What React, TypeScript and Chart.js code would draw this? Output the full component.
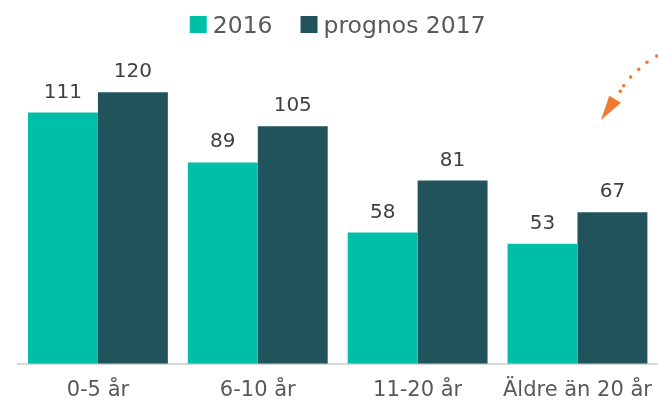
import React, { useEffect, useRef } from "react";
import { Chart, registerables } from "chart.js";

Chart.register(...registerables);

const categories = ["0-5 år", "6-10 år", "11-20 år", "Äldre än 20 år"];
const series2016 = [111, 89, 58, 53];
const series2017 = [120, 105, 81, 67];
const seriesNames = ["2016", "prognos 2017"];
const seriesColors = ["#00BFA8", "#20535B"];

const FONT = "'DejaVu Sans', 'Noto Sans', sans-serif";

const valueLabels = {
  id: "valueLabels",
  afterDatasetsDraw(chart: any) {
    const ctx = chart.ctx;
    ctx.save();
    ctx.font = `20px ${FONT}`;
    ctx.fillStyle = "#404040";
    ctx.textAlign = "center";
    ctx.textBaseline = "alphabetic";
    chart.data.datasets.forEach((ds: any, i: number) => {
      const meta = chart.getDatasetMeta(i);
      meta.data.forEach((bar: any, j: number) => {
        ctx.fillText(String(ds.data[j]), bar.x, bar.y - 15);
      });
    });
    ctx.restore();
  },
};

const customLegend = {
  id: "customLegend",
  afterDraw(chart: any) {
    const ctx = chart.ctx;
    ctx.save();
    ctx.font = `23.5px ${FONT}`;
    ctx.textBaseline = "alphabetic";
    ctx.textAlign = "left";
    const box = 17;
    const gap = 6;
    const itemGap = 28;
    const widths = chart.data.datasets.map((ds: any) => ctx.measureText(ds.label).width);
    const total =
      widths.reduce((a: number, w: number) => a + box + gap + w, 0) + itemGap * (widths.length - 1);
    const center = (chart.chartArea.left + chart.chartArea.right) / 2;
    let x = center - total / 2;
    chart.data.datasets.forEach((ds: any, i: number) => {
      ctx.fillStyle = ds.backgroundColor;
      ctx.fillRect(x, 16, box, box);
      x += box + gap;
      ctx.fillStyle = "#595959";
      ctx.fillText(ds.label, x, 33);
      x += widths[i] + itemGap;
    });
    ctx.restore();
  },
};

const arrowDecor = {
  id: "arrowDecor",
  afterDraw(chart: any) {
    const ctx = chart.ctx;
    ctx.save();
    ctx.fillStyle = "#F07830";
    const dots = [
      [656.7, 56],
      [647, 62.3],
      [638.7, 69.3],
      [630.7, 77],
      [623.7, 85.7],
      [620.3, 91.3],
    ];
    dots.forEach(([x, y]) => {
      ctx.beginPath();
      ctx.arc(x, y, 1.8, 0, Math.PI * 2);
      ctx.fill();
    });
    ctx.beginPath();
    ctx.moveTo(609.3, 95.7);
    ctx.lineTo(621, 102.7);
    ctx.lineTo(601, 120);
    ctx.closePath();
    ctx.fill();
    ctx.restore();
  },
};

export default function App() {
  const ref = useRef<HTMLCanvasElement>(null);
  useEffect(() => {
    if (!ref.current) return;
    const chart = new Chart(ref.current, {
      type: "bar",
      data: {
        labels: categories,
        datasets: [
          {
            label: seriesNames[0],
            data: series2016,
            backgroundColor: seriesColors[0],
            borderWidth: 0,
          },
          {
            label: seriesNames[1],
            data: series2017,
            backgroundColor: seriesColors[1],
            borderWidth: 0,
          },
        ],
      },
      options: {
        animation: false,
        responsive: false,
        maintainAspectRatio: false,
        layout: { padding: { left: 18, right: 0, top: 47, bottom: -8 } },
        datasets: {
          bar: { categoryPercentage: 0.875, barPercentage: 1 },
        },
        plugins: {
          legend: { display: false },
          tooltip: { enabled: false },
        },
        scales: {
          x: {
            grid: { display: false },
            border: { display: true, color: "#D9D9D9", width: 2 },
            ticks: {
              color: "#595959",
              font: { family: FONT, size: 21 },
              padding: 6,
            },
          },
          y: {
            display: false,
            min: 0,
            max: 140,
          },
        },
      },
      plugins: [valueLabels, customLegend, arrowDecor],
    });
    return () => chart.destroy();
  }, []);
  return (
    <div style={{ position: "fixed", left: 0, top: 0, width: 658, height: 401, background: "#fff" }}>
      <canvas ref={ref} width={658} height={401} style={{ width: 658, height: 401 }} />
    </div>
  );
}
